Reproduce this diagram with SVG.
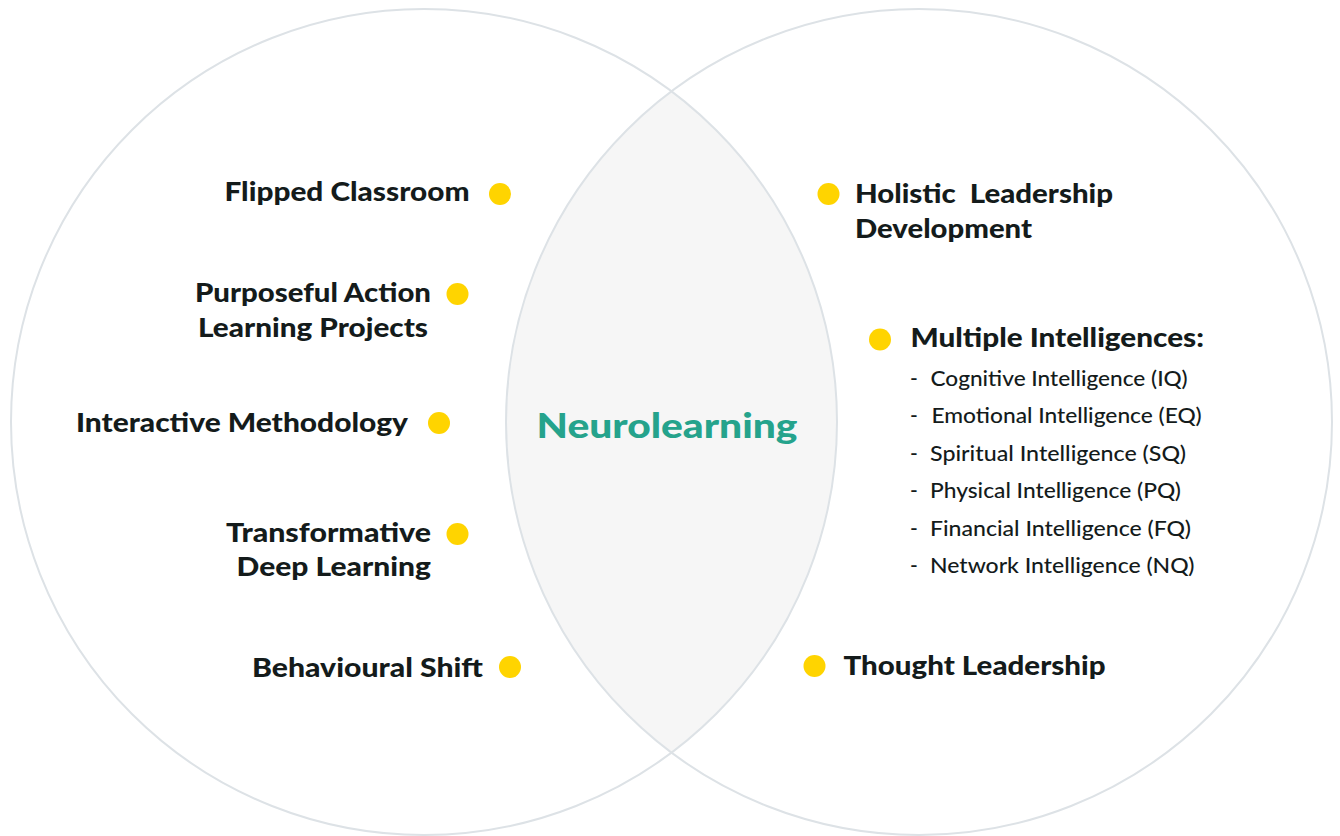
<svg xmlns="http://www.w3.org/2000/svg" width="1340" height="836" viewBox="0 0 1340 836">
<defs>
<style>
.ring{fill:none;stroke:#dde2e6;stroke-width:2}
.lens{fill:#f6f6f6;stroke:none}
.dot{fill:#ffd400}
.h{font-family:Lato,"Noto Sans","Liberation Sans",sans-serif;font-weight:900;font-size:26px;fill:#141b1b}
.s{font-family:Lato,"Noto Sans","Liberation Sans",sans-serif;font-weight:500;font-size:21px;fill:#141b1b}
.c{font-family:Lato,"Noto Sans","Liberation Sans",sans-serif;font-weight:900;font-size:34px;fill:#25a38c}
</style>
<clipPath id="clipL"><circle cx="424" cy="422" r="413"/></clipPath>
</defs>
<rect width="1340" height="836" fill="#ffffff"/>
<g id="venn">
<circle class="lens" cx="919" cy="422" r="413" clip-path="url(#clipL)"/>
<circle class="ring" cx="424" cy="422" r="413"/>
<circle class="ring" cx="919" cy="422" r="413"/>
</g>
<g id="connectors"></g>
<g id="center">
<text class="c" x="536.5" y="438" textLength="261" lengthAdjust="spacingAndGlyphs">Neurolearning</text>
</g>
<g id="flipped-classroom">
<text class="h" x="224.5" y="201" textLength="245" lengthAdjust="spacingAndGlyphs">Flipped Classroom</text>
<circle class="dot" cx="500" cy="194" r="11"/>
</g>
<g id="purposeful-action">
<text class="h" x="195" y="302" textLength="236" lengthAdjust="spacingAndGlyphs">Purposeful Action</text>
<text class="h" x="198" y="337" textLength="230" lengthAdjust="spacingAndGlyphs">Learning Projects</text>
<circle class="dot" cx="457.5" cy="294" r="11"/>
</g>
<g id="interactive-methodology">
<text class="h" x="76" y="432" textLength="332" lengthAdjust="spacingAndGlyphs">Interactive Methodology</text>
<circle class="dot" cx="439" cy="423" r="11"/>
</g>
<g id="transformative">
<text class="h" x="226" y="542" textLength="205" lengthAdjust="spacingAndGlyphs">Transformative</text>
<text class="h" x="236.5" y="576" textLength="194.5" lengthAdjust="spacingAndGlyphs">Deep Learning</text>
<circle class="dot" cx="457.5" cy="534" r="11"/>
</g>
<g id="behavioural-shift">
<text class="h" x="252" y="677" textLength="231" lengthAdjust="spacingAndGlyphs">Behavioural Shift</text>
<circle class="dot" cx="510" cy="667" r="11"/>
</g>
<g id="holistic-leadership">
<circle class="dot" cx="828.5" cy="194" r="11"/>
<text class="h" x="855" y="203" textLength="258" lengthAdjust="spacingAndGlyphs" xml:space="preserve">Holistic  Leadership</text>
<text class="h" x="855" y="238" textLength="177" lengthAdjust="spacingAndGlyphs">Development</text>
</g>
<g id="multiple-intelligences">
<circle class="dot" cx="880" cy="339.5" r="11"/>
<text class="h" x="910.5" y="347" textLength="293.5" lengthAdjust="spacingAndGlyphs">Multiple Intelligences:</text>
<text class="s" x="910" y="386">-</text>
<text class="s" x="930.5" y="386" textLength="257" lengthAdjust="spacingAndGlyphs">Cognitive Intelligence (IQ)</text>
<text class="s" x="910" y="423.4">-</text>
<text class="s" x="931.5" y="423.4" textLength="270" lengthAdjust="spacingAndGlyphs">Emotional Intelligence (EQ)</text>
<text class="s" x="910" y="460.8">-</text>
<text class="s" x="930" y="460.8" textLength="256" lengthAdjust="spacingAndGlyphs">Spiritual Intelligence (SQ)</text>
<text class="s" x="910" y="498.2">-</text>
<text class="s" x="930" y="498.2" textLength="251" lengthAdjust="spacingAndGlyphs">Physical Intelligence (PQ)</text>
<text class="s" x="910" y="535.6">-</text>
<text class="s" x="930" y="535.6" textLength="261" lengthAdjust="spacingAndGlyphs">Financial Intelligence (FQ)</text>
<text class="s" x="910" y="573">-</text>
<text class="s" x="930" y="573" textLength="264.5" lengthAdjust="spacingAndGlyphs">Network Intelligence (NQ)</text>
</g>
<g id="thought-leadership">
<circle class="dot" cx="814.5" cy="666" r="11"/>
<text class="h" x="843.5" y="675" textLength="262" lengthAdjust="spacingAndGlyphs">Thought Leadership</text>
</g>
</svg>
